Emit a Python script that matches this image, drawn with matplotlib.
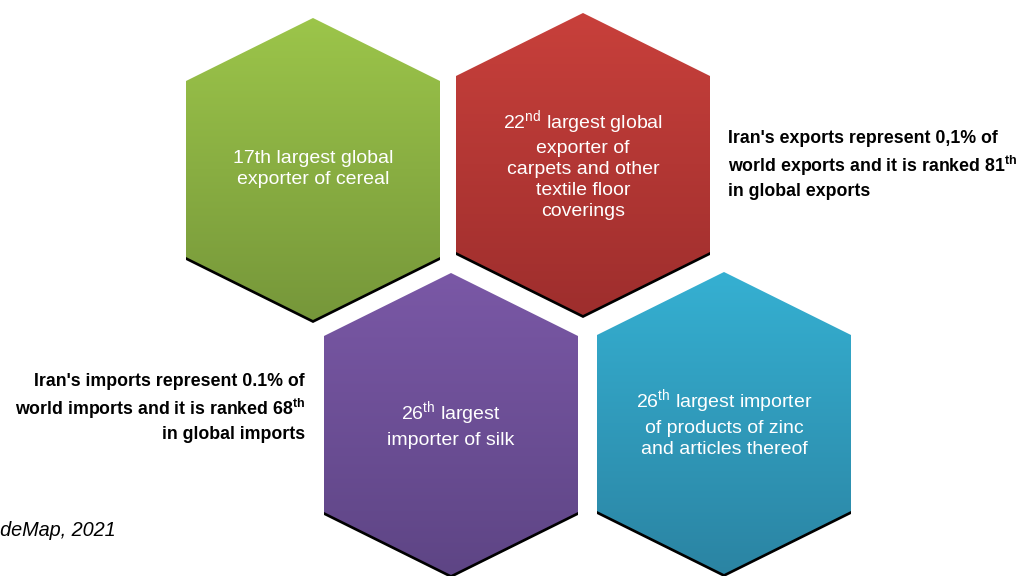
import numpy as np
import matplotlib.pyplot as plt
from matplotlib.patches import Polygon
from matplotlib.colors import to_rgb

# --- data -----------------------------------------------------------------
hex_labels = ["17th largest global\nexporter of cereal",
              "22$^{\\mathrm{nd}}$ largest global\nexporter of\ncarpets and other\ntextile floor\ncoverings",
              "26$^{\\mathrm{th}}$ largest\nimporter of silk",
              "26$^{\\mathrm{th}}$ largest importer\nof products of zinc\nand articles thereof"]
hex_top = ["#9cc54a", "#c8403b", "#7a58a6", "#35b0d2"]
hex_bottom = ["#76973a", "#9e2e2d", "#5e4585", "#2b84a3"]

export_note = "Iran's exports represent 0,1% of\nworld exports and it is ranked 81$^{\\mathbf{th}}$\nin global exports"
import_note = "Iran's imports represent 0.1% of\nworld imports and it is ranked 68$^{\\mathbf{th}}$\nin global imports"
source_note = "Source: TradeMap, 2021"

# hexagon layout (pixels): centre x, centre y
centres = [(313, 169), (583, 164), (451, 424), (724, 423)]
half_w, half_h, shoulder = 127, 151, 88

base = 'Liberation Sans'
plt.rcParams['mathtext.fontset'] = 'custom'
plt.rcParams['mathtext.rm'] = base
plt.rcParams['mathtext.bf'] = base + ':bold'

fig = plt.figure(figsize=(10.26, 5.76), dpi=100)
ax = fig.add_axes([0, 0, 1, 1])
ax.set_xlim(0, 1026)
ax.set_ylim(576, 0)
ax.axis('off')


def hexagon(cx, cy, dy=0):
    return [(cx, cy - half_h + dy), (cx + half_w, cy - shoulder + dy),
            (cx + half_w, cy + shoulder + dy), (cx, cy + half_h + dy),
            (cx - half_w, cy + shoulder + dy), (cx - half_w, cy - shoulder + dy)]


for (cx, cy), lab, c1, c2 in zip(centres, hex_labels, hex_top, hex_bottom):
    # black shadow under the lower edges
    ax.add_patch(Polygon(hexagon(cx, cy, 3), closed=True, facecolor='black',
                         edgecolor='none', zorder=1))
    # vertical gradient clipped to the hexagon
    top = np.array(to_rgb(c1))
    bot = np.array(to_rgb(c2))
    t = np.linspace(0, 1, 256)[:, None]
    grad = (top * (1 - t) + bot * t)[:, None, :]
    im = ax.imshow(grad, extent=(cx - half_w, cx + half_w, cy + half_h, cy - half_h),
                   aspect='auto', zorder=2, interpolation='bilinear')
    clip = Polygon(hexagon(cx, cy), closed=True, facecolor='none', edgecolor='none',
                   transform=ax.transData)
    ax.add_patch(clip)
    im.set_clip_path(clip)
    ax.text(cx, cy, lab, color='white', fontsize=14, family=base,
            ha='center', va='center', linespacing=1.3, zorder=3)

ax.text(728, 165, export_note, fontsize=12.8, family=base, fontweight='bold',
        ha='left', va='center', linespacing=1.4, color='black')
ax.text(305, 408, import_note, fontsize=12.8, family=base, fontweight='bold',
        ha='right', va='center', linespacing=1.4, color='black')
ax.text(116, 531, source_note, fontsize=14.3, family=base, style='italic',
        ha='right', va='center', color='black')

fig.savefig('out.png', dpi=100)
